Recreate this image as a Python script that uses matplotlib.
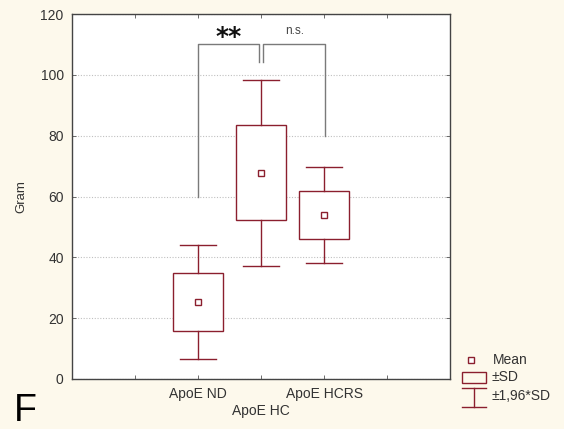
import matplotlib
matplotlib.use("Agg")
import matplotlib.pyplot as plt
from matplotlib.patches import Rectangle

plt.rcParams["font.family"] = ["Liberation Sans", "DejaVu Sans"]

categories = ["ApoE ND", "ApoE HC", "ApoE HCRS"]
means = [25.3, 67.8, 53.9]
sds = [9.6, 15.6, 8.0]
k = 1.96
positions = [2, 3, 4]
tick_positions = [1, 2, 3, 4, 5]
tick_labels = ["", "ApoE ND", "\nApoE HC", "ApoE HCRS", ""]

W, H = 564, 429
bg = "#FDF9EC"
red = "#8B1F2E"
gray = "#7a7a7a"
txt = "#333333"

fig = plt.figure(figsize=(W / 100, H / 100), dpi=100, facecolor=bg)
ax = fig.add_axes([72 / W, 1 - 379 / H, (450 - 72) / W, (379 - 14) / H])
ax.set_facecolor("white")
ax.set_xlim(0, 6)
ax.set_ylim(0, 120)
ax.set_yticks([0, 20, 40, 60, 80, 100, 120])
ax.set_xticks(tick_positions)
ax.set_xticklabels(tick_labels)
ax.tick_params(direction="in", top=True, right=True, length=3, width=0.6,
               labelsize=10, labelcolor=txt, color="#555555", pad=6)
for s in ax.spines.values():
    s.set_color("#444444")
    s.set_linewidth(1.0)
ax.grid(axis="y", linestyle=(0, (1, 1.5)), color="#c0c0c0", linewidth=0.8)
ax.set_axisbelow(True)
ax.set_ylabel("Gram", fontsize=9.5, color=txt)
ax.yaxis.set_label_coords(-0.118, 0.5)

bw = 0.8
cw = 0.57
for p, m, s in zip(positions, means, sds):
    ax.add_patch(Rectangle((p - bw / 2, m - s), bw, 2 * s, facecolor="white",
                           edgecolor=red, linewidth=1.0, zorder=3))
    ax.plot([p, p], [m + s, m + k * s], color=red, lw=1.0, zorder=3)
    ax.plot([p, p], [m - s, m - k * s], color=red, lw=1.0, zorder=3)
    ax.plot([p - cw / 2, p + cw / 2], [m + k * s] * 2, color=red, lw=1.0, zorder=3)
    ax.plot([p - cw / 2, p + cw / 2], [m - k * s] * 2, color=red, lw=1.0, zorder=3)
    ax.plot([p], [m], marker="s", markersize=4.5, markerfacecolor="white",
            markeredgecolor=red, markeredgewidth=1.0, zorder=4)

# significance brackets
ax.plot([2, 2, 2.97, 2.97], [60, 110, 110, 104.3], color=gray, lw=1.0, zorder=2)
ax.plot([3.03, 3.03, 4.02, 4.02], [104.3, 110, 110, 80], color=gray, lw=1.0, zorder=2)
ax.text(2.48, 112.5, "**", ha="center", va="center", fontsize=18,
        fontweight="bold", color="#111111", family="DejaVu Sans")
ax.text(3.54, 114.5, "n.s.", ha="center", va="center", fontsize=8.5, color="#444444")

# legend drawn in pixel coordinates
lax = fig.add_axes([0, 0, 1, 1], facecolor="none")
lax.set_xlim(0, W)
lax.set_ylim(H, 0)
lax.axis("off")
lax.plot([471], [359.5], marker="s", markersize=4.5, markerfacecolor="white",
         markeredgecolor=red, markeredgewidth=1.0)
lax.add_patch(Rectangle((462, 371.5), 24, 11, facecolor="none", edgecolor=red, lw=1.0))
lax.plot([462, 486], [387.5, 387.5], color=red, lw=1.0)
lax.plot([474, 474], [387.5, 406.5], color=red, lw=1.0)
lax.plot([462, 486], [406.5, 406.5], color=red, lw=1.0)
lax.text(493, 359.5, "Mean", fontsize=10, color=txt, va="center", ha="left")
lax.text(491, 377, "±SD", fontsize=10, color=txt, va="center", ha="left")
lax.text(491, 396, "±1,96*SD", fontsize=10, color=txt, va="center", ha="left")

fig.text(14 / W, 1 - 421 / H, "F", fontsize=27, color="black", va="baseline", ha="left")

fig.savefig("out.png", dpi=100, facecolor=bg)
